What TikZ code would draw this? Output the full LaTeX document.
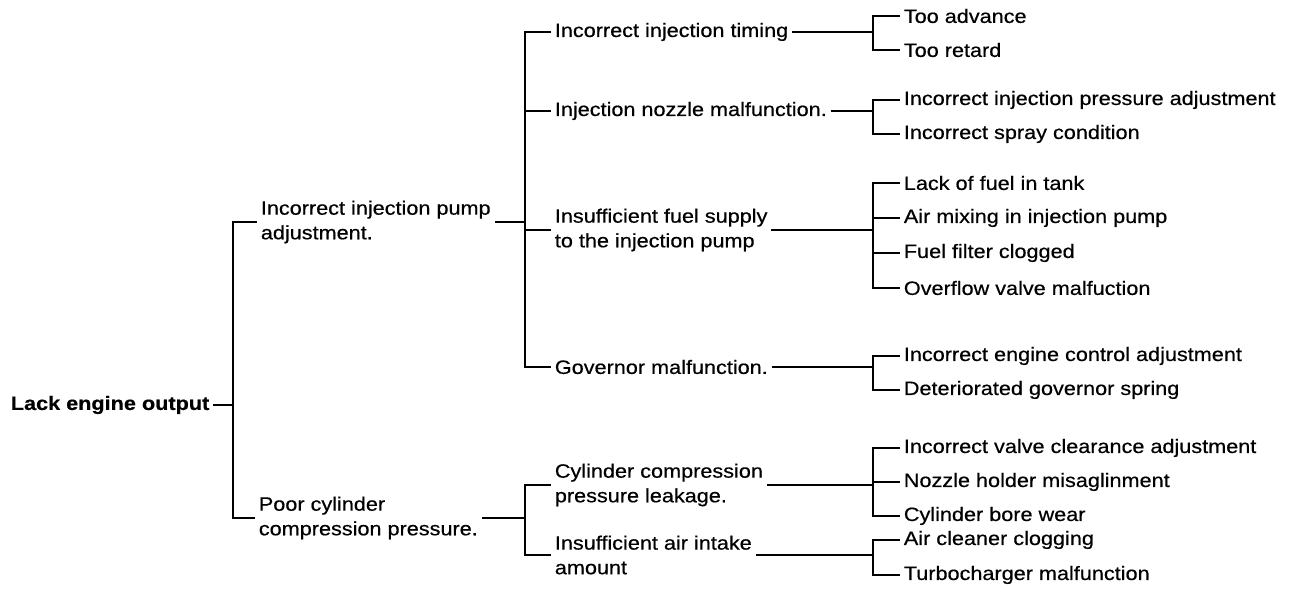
\documentclass[tikz,border=0pt]{standalone}
\usepackage{fontspec}
\setmainfont{Liberation Sans}[FakeStretch=1.12, FakeBold=0.5]
\usepackage{tikz}

\tikzset{
  cause/.style={anchor=west, inner sep=2pt, align=left,
    font=\fontsize{11}{14}\selectfont},
  bar/.style={line width=1.6pt}
}

\begin{document}
\begin{tikzpicture}[x=0.02cm, y=-0.02cm]
\useasboundingbox (0,0) rectangle (1292,590);

% root and the two main causes
\node[cause, font=\fontsize{11}{14}\selectfont\bfseries] (root) at (7,405) {Lack engine output};
\node[cause] (A) at (257,222) {Incorrect injection pump\\adjustment.};
\node[cause] (B) at (255,518) {Poor cylinder\\compression pressure.};

% second level
\node[cause] (A1) at (551,32) {Incorrect injection timing};
\node[cause] (A2) at (551,111) {Injection nozzle malfunction.};
\node[cause] (A3) at (551,230) {Insufficient fuel supply\\to the injection pump};
\node[cause] (A4) at (551,367) {Governor malfunction.};
\node[cause] (B1) at (551,485) {Cylinder compression\\pressure leakage.};
\node[cause] (B2) at (551,555) {Insufficient air intake\\amount};

% third level
\node[cause] (a11) at (900,16) {Too advance};
\node[cause] (a12) at (900,50) {Too retard};
\node[cause] (a21) at (900,100) {Incorrect injection pressure adjustment};
\node[cause] (a22) at (900,134) {Incorrect spray condition};
\node[cause] (a31) at (900,183) {Lack of fuel in tank};
\node[cause] (a32) at (900,218) {Air mixing in injection pump};
\node[cause] (a33) at (900,253) {Fuel filter clogged};
\node[cause] (a34) at (900,288) {Overflow valve malfuction};
\node[cause] (a41) at (900,356) {Incorrect engine control adjustment};
\node[cause] (a42) at (900,390) {Deteriorated governor spring};
\node[cause] (b11) at (900,448) {Incorrect valve clearance adjustment};
\node[cause] (b12) at (900,482) {Nozzle holder misaglinment};
\node[cause] (b13) at (900,516) {Cylinder bore wear};
\node[cause] (b21) at (900,540) {Air cleaner clogging};
\node[cause] (b22) at (900,575) {Turbocharger malfunction};

% spines
\coordinate (s0) at (233,405);
\coordinate (s1) at (525,0);
\coordinate (s2) at (873,0);

\draw[bar] (root.east) -- (s0);
\draw[bar] (A.west) -| (s0) |- (B.west);

\draw[bar] (A.east) -- (A.east -| s1);
\draw[bar] (A1.west) -| (s1 |- A4.west) -- (A4.west);
\foreach \n in {A2,A3}
  \draw[bar] (\n.west) -- (\n.west -| s1);

\draw[bar] (B.east) -- (B.east -| s1);
\draw[bar] (B1.west) -| (s1 |- B2.west) -- (B2.west);

% leaves
\foreach \p/\f/\l in {A1/a11/a12, A2/a21/a22, A3/a31/a34, A4/a41/a42, B1/b11/b13, B2/b21/b22} {
  \draw[bar] (\p.east) -- (\p.east -| s2);
  \draw[bar] (\f.west) -| (s2 |- \l.west) -- (\l.west);
}
\foreach \n in {a32,a33,b12}
  \draw[bar] (\n.west) -- (\n.west -| s2);
\end{tikzpicture}
\end{document}
